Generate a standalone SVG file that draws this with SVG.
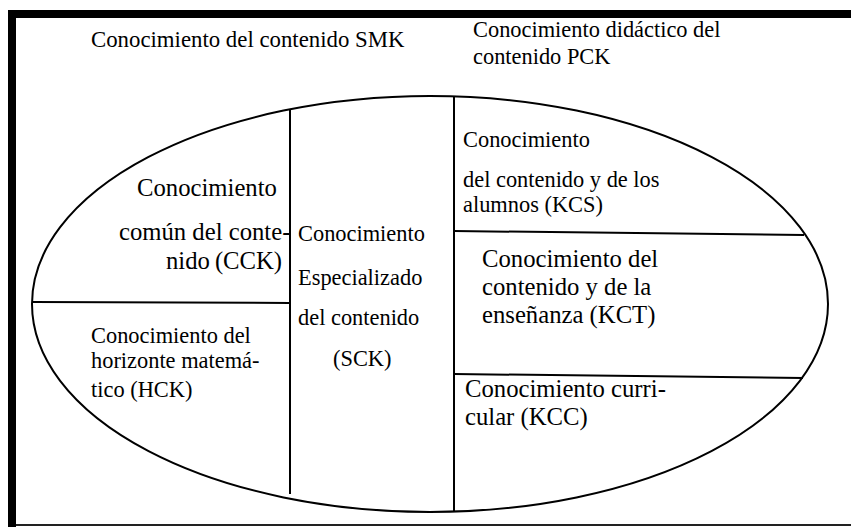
<svg xmlns="http://www.w3.org/2000/svg" width="851" height="527" viewBox="0 0 851 527">
<style>
.t{font-family:"Liberation Serif","Times New Roman",serif;fill:#000;}
.s{font-size:22.4px;}
.l{font-size:24.7px;}
.ln{stroke:#000;stroke-width:2;fill:none;}
</style>
<rect x="0" y="0" width="851" height="527" fill="#fff"/>
<g id="frame">
<rect x="8" y="10" width="843" height="8" fill="#000"/>
<rect x="8" y="10" width="8" height="517" fill="#000"/>
<line x1="16" y1="525" x2="851" y2="525" stroke="#222" stroke-width="2"/>
</g>
<g id="SMK"><text class="t" x="91" y="47" style="font-size:22.8px">Conocimiento del contenido SMK</text></g>
<g id="PCK"><text class="t s" x="473" y="37">Conocimiento didáctico del</text><text class="t s" x="473" y="64">contenido PCK</text></g>
<g id="connectors">
<ellipse class="ln" cx="430" cy="304" rx="398" ry="208"/>
<line class="ln" x1="290" y1="109" x2="290" y2="494"/>
<line class="ln" x1="454" y1="96" x2="454" y2="512"/>
<line class="ln" x1="33" y1="302" x2="290" y2="303"/>
<line class="ln" x1="454" y1="231" x2="804" y2="235"/>
<line class="ln" x1="454" y1="374" x2="803" y2="378"/>
</g>
<g id="CCK">
<text class="t l" x="137" y="196">Conocimiento</text>
<text class="t l" x="119" y="240">común del conte-</text>
<text class="t l" x="166" y="269">nido<tspan dx="5">(CCK)</tspan></text>
</g>
<g id="HCK">
<text class="t s" x="91" y="343">Conocimiento del</text>
<text class="t s" x="91" y="368">horizonte matemá-</text>
<text class="t s" x="91" y="397">tico (HCK)</text>
</g>
<g id="SCK">
<text class="t s" x="298" y="241">Conocimiento</text>
<text class="t s" x="298" y="285">Especializado</text>
<text class="t s" x="298" y="325">del contenido</text>
<text class="t s" x="333" y="366">(SCK)</text>
</g>
<g id="KCS">
<text class="t s" x="463" y="147">Conocimiento</text>
<text class="t s" x="463" y="187">del contenido y de los</text>
<text class="t s" x="463" y="212">alumnos (KCS)</text>
</g>
<g id="KCT">
<text class="t l" x="482" y="267">Conocimiento del</text>
<text class="t l" x="482" y="295">contenido y de la</text>
<text class="t l" x="482" y="323">enseñanza (KCT)</text>
</g>
<g id="KCC">
<text class="t l" x="465" y="397">Conocimiento curri-</text>
<text class="t l" x="465" y="425">cular (KCC)</text>
</g>
</svg>
